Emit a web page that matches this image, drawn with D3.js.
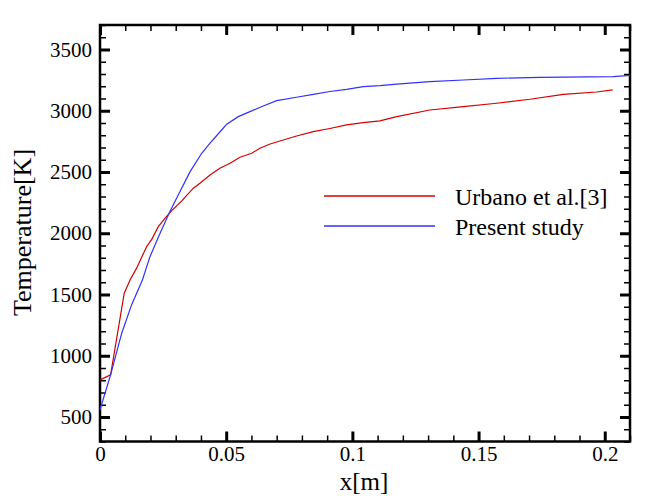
<!DOCTYPE html>
<html>
<head>
<meta charset="utf-8">
<script src="https://cdn.jsdelivr.net/npm/d3@7"></script>
<style>
  html, body { margin: 0; padding: 0; background: #fff; }
  svg { display: block; }
  text { font-family: "Liberation Serif", "Times New Roman", serif; fill: #000; }
</style>
</head>
<body>
<svg id="chart" width="664" height="498"></svg>
<script>
// ---- Data ----
const urbanoX = [0, 0.0042, 0.0096, 0.0119, 0.0145, 0.0185, 0.0205, 0.0231, 0.0258, 0.0284, 0.0323, 0.037, 0.0396, 0.0436, 0.0475, 0.0515, 0.0555, 0.0601, 0.0634, 0.0674, 0.0713, 0.0779, 0.0845, 0.0911, 0.0977, 0.1043, 0.1109, 0.1176, 0.1307, 0.144, 0.1572, 0.1704, 0.1836, 0.1968, 0.2031];
const urbanoT = [803, 844, 1511, 1619, 1715, 1891, 1950, 2054, 2123, 2185, 2262, 2368, 2408, 2476, 2531, 2572, 2620, 2653, 2694, 2729, 2753, 2794, 2829, 2855, 2884, 2903, 2917, 2952, 3006, 3033, 3061, 3094, 3134, 3153, 3170];

const presentX = [0, 0.0042, 0.0086, 0.0125, 0.0168, 0.0198, 0.0238, 0.0277, 0.0317, 0.0357, 0.0403, 0.0436, 0.0482, 0.0502, 0.0548, 0.0594, 0.0647, 0.07, 0.0779, 0.0845, 0.0911, 0.0977, 0.1043, 0.1109, 0.1176, 0.1307, 0.144, 0.1572, 0.1743, 0.2034, 0.21];
const presentT = [559, 844, 1184, 1415, 1619, 1809, 2000, 2177, 2340, 2503, 2653, 2735, 2843, 2890, 2952, 2993, 3039, 3082, 3110, 3134, 3157, 3175, 3197, 3205, 3218, 3237, 3251, 3265, 3273, 3278, 3289];

const seriesNames = ["Urbano et al.[3]", "Present study"];
const seriesColors = ["#d40000", "#3030ff"];

const xMajorTicks = [0, 0.05, 0.1, 0.15, 0.2];
const xTickLabels = ["0", "0.05", "0.1", "0.15", "0.2"];
const xMinorTicks = d3.range(0, 22).map(i => i / 100);
const yMajorTicks = [500, 1000, 1500, 2000, 2500, 3000, 3500];
const yTickLabels = ["500", "1000", "1500", "2000", "2500", "3000", "3500"];
const yMinorTicks = d3.range(300, 3701, 100);

const xTitle = "x[m]";
const yTitle = "Temperature[K]";

// ---- Layout ----
const L = 100, R = 630, T = 25, B = 441.5;
const FONT = '"Liberation Serif", "Times New Roman", serif';
const svg = d3.select("#chart");

const x = d3.scaleLinear().domain([0, 0.21]).range([L, R]);
const y = d3.scaleLinear().domain([300, 3700]).range([B, T]);

function styleAxis(g, width) {
  g.attr("font-family", FONT).attr("font-size", 21);
  g.select(".domain").remove();
  g.selectAll(".tick line").attr("stroke", "#000").attr("stroke-width", width);
  g.selectAll("text").attr("font-family", FONT).attr("font-size", 21)
    .style("font-family", FONT).style("font-size", "21px").attr("fill", "#000");
}

// minor ticks (all four sides)
svg.append("g").attr("transform", `translate(0,${B})`)
  .call(d3.axisBottom(x).tickValues(xMinorTicks).tickSize(-6).tickFormat(""))
  .call(g => styleAxis(g, 1.5));
svg.append("g").attr("transform", `translate(0,${T})`)
  .call(d3.axisTop(x).tickValues(xMinorTicks).tickSize(-6).tickFormat(""))
  .call(g => styleAxis(g, 1.5));
svg.append("g").attr("transform", `translate(${L},0)`)
  .call(d3.axisLeft(y).tickValues(yMinorTicks).tickSize(-6).tickFormat(""))
  .call(g => styleAxis(g, 1.5));
svg.append("g").attr("transform", `translate(${R},0)`)
  .call(d3.axisRight(y).tickValues(yMinorTicks).tickSize(-6).tickFormat(""))
  .call(g => styleAxis(g, 1.5));

// major ticks
svg.append("g").attr("transform", `translate(0,${B})`)
  .call(d3.axisBottom(x).tickValues(xMajorTicks).tickSize(-10).tickPadding(5)
    .tickFormat((d, i) => xTickLabels[i]))
  .call(g => styleAxis(g, 3));
svg.append("g").attr("transform", `translate(0,${T})`)
  .call(d3.axisTop(x).tickValues(xMajorTicks).tickSize(-10).tickFormat(""))
  .call(g => styleAxis(g, 3));
svg.append("g").attr("transform", `translate(${L},0)`)
  .call(d3.axisLeft(y).tickValues(yMajorTicks).tickSize(-10).tickPadding(8)
    .tickFormat((d, i) => yTickLabels[i]))
  .call(g => styleAxis(g, 3));
svg.append("g").attr("transform", `translate(${R},0)`)
  .call(d3.axisRight(y).tickValues(yMajorTicks).tickSize(-10).tickFormat(""))
  .call(g => styleAxis(g, 3));

// frame
svg.append("rect")
  .attr("x", L).attr("y", T).attr("width", R - L).attr("height", B - T)
  .attr("fill", "none").attr("stroke", "#000").attr("stroke-width", 2.5);

// curves
const line = d3.line().x(d => x(d[0])).y(d => y(d[1]));
const series = [
  d3.zip(urbanoX, urbanoT),
  d3.zip(presentX, presentT)
];
svg.append("g").selectAll("path").data(series).join("path")
  .attr("d", line)
  .attr("fill", "none")
  .attr("stroke", (d, i) => seriesColors[i])
  .attr("stroke-width", 1.2);

// legend
const legY = [196, 226];
const leg = svg.append("g");
seriesNames.forEach((name, i) => {
  leg.append("line").attr("x1", 324).attr("x2", 435)
    .attr("y1", legY[i]).attr("y2", legY[i])
    .attr("stroke", seriesColors[i]).attr("stroke-width", 1.5);
  leg.append("text").attr("x", 455).attr("y", legY[i] + 8.5)
    .attr("font-family", FONT).style("font-size", "24px").text(name);
});

// axis titles
svg.append("text").attr("x", 364).attr("y", 489.5)
  .attr("text-anchor", "middle").attr("font-family", FONT).style("font-size", "25px").text(xTitle);
svg.append("text").attr("transform", "translate(31,232.5) rotate(-90)")
  .attr("text-anchor", "middle").attr("font-family", FONT).style("font-size", "26px").text(yTitle);
</script>
</body>
</html>
